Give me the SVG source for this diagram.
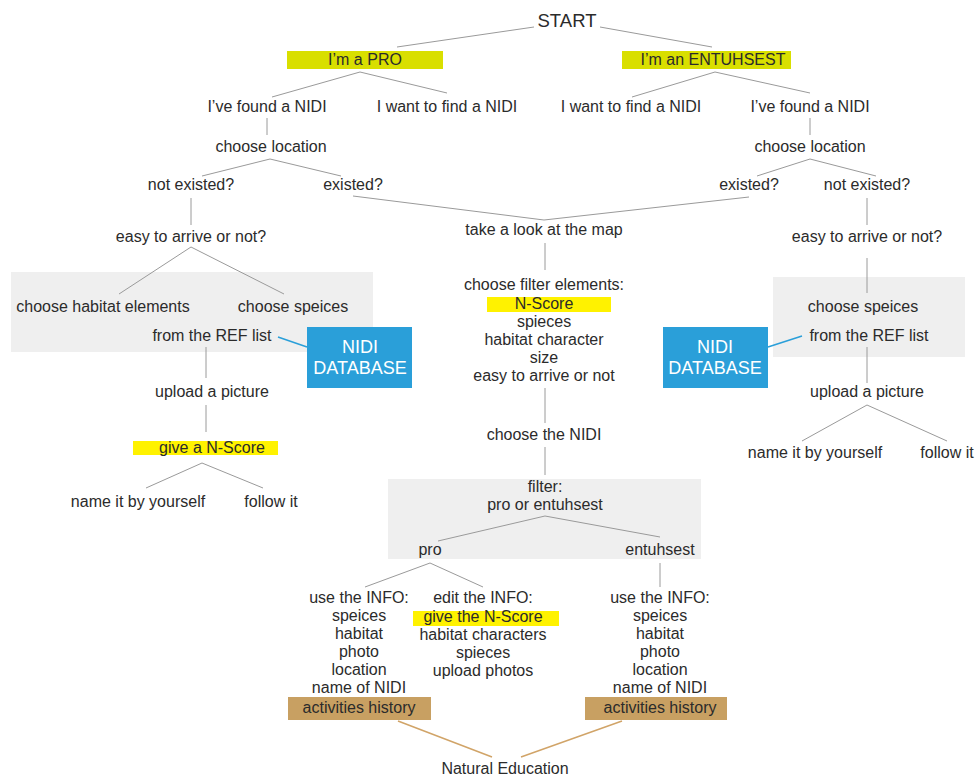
<svg xmlns="http://www.w3.org/2000/svg" width="977" height="776" viewBox="0 0 977 776">
  <style>
    text { font-family: "Liberation Sans", Arial, sans-serif; font-size: 16px; fill: #2b2b2b; text-anchor: middle; }
    .big { font-size: 18.5px; }
    .db { font-size: 18px; fill: #ffffff; }
    .link { stroke: #9a9a9a; stroke-width: 1; fill: none; }
    .blue { stroke: #2a9fd9; stroke-width: 1.5; fill: none; }
    .tan { stroke: #d1a468; stroke-width: 1.5; fill: none; }
    .panel { fill: #efefef; }
    .lime { fill: #d9df00; }
    .hl { fill: #fff200; }
    .dbbox { fill: #2a9fd9; }
    .hist { fill: #c8a062; }
  </style>

  <!-- grey panels -->
  <rect class="panel" x="11" y="272" width="362" height="80"/>
  <rect class="panel" x="773" y="277" width="192" height="80"/>
  <rect class="panel" x="388" y="479" width="313" height="80"/>

  <!-- connectors -->
  <g id="connectors">
    <path class="link" d="M534 27 L397 47 M600 27 L712 47"/>
    <path class="link" d="M360 72 L272 97 M360 72 L447 93"/>
    <path class="link" d="M715 72 L632 97 M715 72 L810 93"/>
    <path class="link" d="M267 118 V135 M810 118 V135"/>
    <path class="link" d="M270 159 L202 176 M270 159 L341 176"/>
    <path class="link" d="M810 159 L757 176 M810 159 L876 176"/>
    <path class="link" d="M353 196 L544 220 L749 197"/>
    <path class="link" d="M191 198 V225 M867 198 V225"/>
    <path class="link" d="M191 247 L119 294 M191 247 L284 294"/>
    <path class="link" d="M867 258 V293"/>
    <path class="link" d="M206 347 V378 M206 405 V432"/>
    <path class="link" d="M202 463 L146 488 M202 463 L263 488"/>
    <path class="link" d="M867 347 V383"/>
    <path class="link" d="M867 405 L802 441 M867 405 L947 441"/>
    <path class="link" d="M545 243 V270 M545 388 V423 M545 447 V475"/>
    <path class="link" d="M545 516 L438 541 M545 516 L660 537"/>
    <path class="link" d="M430 563 L365 587 M430 563 L483 587"/>
    <path class="link" d="M660 563 V587"/>
    <path class="blue" d="M278 337 L307 347 M768 347 L802 336"/>
    <path class="tan" d="M398 721 L492 757 M622 721 L521 757"/>
  </g>

  <g id="start"><text class="big" x="567" y="27">START</text></g>

  <g id="pro">
    <rect class="lime" x="287" y="51" width="156" height="18"/>
    <text x="365" y="65">I’m a PRO</text>
  </g>
  <g id="enthusiast">
    <rect class="lime" x="622" y="51" width="169" height="18"/>
    <text x="713" y="65">I’m an ENTUHSEST</text>
  </g>

  <!-- pro branch -->
  <g id="pro-found"><text x="267" y="112">I’ve found a NIDI</text></g>
  <g id="pro-want"><text x="447" y="112">I want to find a NIDI</text></g>
  <g id="pro-location"><text x="271" y="152">choose location</text></g>
  <g id="pro-not-existed"><text x="191" y="190">not existed?</text></g>
  <g id="pro-existed"><text x="353" y="190">existed?</text></g>
  <g id="pro-easy"><text x="191" y="242">easy to arrive or not?</text></g>
  <g id="pro-habitat"><text x="103" y="312">choose habitat elements</text></g>
  <g id="pro-species"><text x="293" y="312">choose speices</text></g>
  <g id="pro-ref"><text x="212" y="341">from the REF list</text></g>
  <g id="pro-db">
    <rect class="dbbox" x="307" y="327" width="105" height="61"/>
    <text class="db" x="360" y="353">NIDI</text>
    <text class="db" x="360" y="374">DATABASE</text>
  </g>
  <g id="pro-upload"><text x="212" y="397">upload a picture</text></g>
  <g id="pro-score">
    <rect class="hl" x="133" y="441" width="145" height="14"/>
    <text x="212" y="453">give a N-Score</text>
  </g>
  <g id="pro-name"><text x="138" y="507">name it by yourself</text></g>
  <g id="pro-follow"><text x="271" y="507">follow it</text></g>

  <!-- enthusiast branch -->
  <g id="ent-want"><text x="631" y="112">I want to find a NIDI</text></g>
  <g id="ent-found"><text x="810" y="112">I’ve found a NIDI</text></g>
  <g id="ent-location"><text x="810" y="152">choose location</text></g>
  <g id="ent-existed"><text x="749" y="190">existed?</text></g>
  <g id="ent-not-existed"><text x="867" y="190">not existed?</text></g>
  <g id="ent-easy"><text x="867" y="242">easy to arrive or not?</text></g>
  <g id="ent-species"><text x="863" y="312">choose speices</text></g>
  <g id="ent-ref"><text x="869" y="341">from the REF list</text></g>
  <g id="ent-db">
    <rect class="dbbox" x="663" y="327" width="105" height="61"/>
    <text class="db" x="715" y="353">NIDI</text>
    <text class="db" x="715" y="374">DATABASE</text>
  </g>
  <g id="ent-upload"><text x="867" y="397">upload a picture</text></g>
  <g id="ent-name"><text x="815" y="458">name it by yourself</text></g>
  <g id="ent-follow"><text x="947" y="458">follow it</text></g>

  <!-- shared map path -->
  <g id="map"><text x="544" y="235">take a look at the map</text></g>
  <g id="filter-elements">
    <rect class="hl" x="487" y="297" width="124" height="15"/>
    <text x="544" y="290">choose filter elements:</text>
    <text x="544" y="309">N-Score</text>
    <text x="544" y="327">spieces</text>
    <text x="544" y="345">habitat character</text>
    <text x="544" y="363">size</text>
    <text x="544" y="381">easy to arrive or not</text>
  </g>
  <g id="choose-nidi"><text x="544" y="440">choose the NIDI</text></g>
  <g id="filter">
    <text x="545" y="492">filter:</text>
    <text x="545" y="510">pro or entuhsest</text>
  </g>
  <g id="filter-pro"><text x="430" y="555">pro</text></g>
  <g id="filter-ent"><text x="660" y="555">entuhsest</text></g>

  <g id="pro-use">
    <rect class="hist" x="288" y="697" width="143" height="23"/>
    <text x="359" y="603">use the INFO:</text>
    <text x="359" y="621">speices</text>
    <text x="359" y="639">habitat</text>
    <text x="359" y="657">photo</text>
    <text x="359" y="675">location</text>
    <text x="359" y="693">name of NIDI</text>
    <text x="359" y="713">activities history</text>
  </g>
  <g id="pro-edit">
    <rect class="hl" x="413" y="611" width="146" height="15"/>
    <text x="483" y="603">edit the INFO:</text>
    <text x="483" y="622">give the N-Score</text>
    <text x="483" y="640">habitat characters</text>
    <text x="483" y="658">spieces</text>
    <text x="483" y="676">upload photos</text>
  </g>
  <g id="ent-use">
    <rect class="hist" x="585" y="697" width="142" height="23"/>
    <text x="660" y="603">use the INFO:</text>
    <text x="660" y="621">speices</text>
    <text x="660" y="639">habitat</text>
    <text x="660" y="657">photo</text>
    <text x="660" y="675">location</text>
    <text x="660" y="693">name of NIDI</text>
    <text x="660" y="713">activities history</text>
  </g>
  <g id="education"><text x="505" y="774">Natural Education</text></g>
</svg>
